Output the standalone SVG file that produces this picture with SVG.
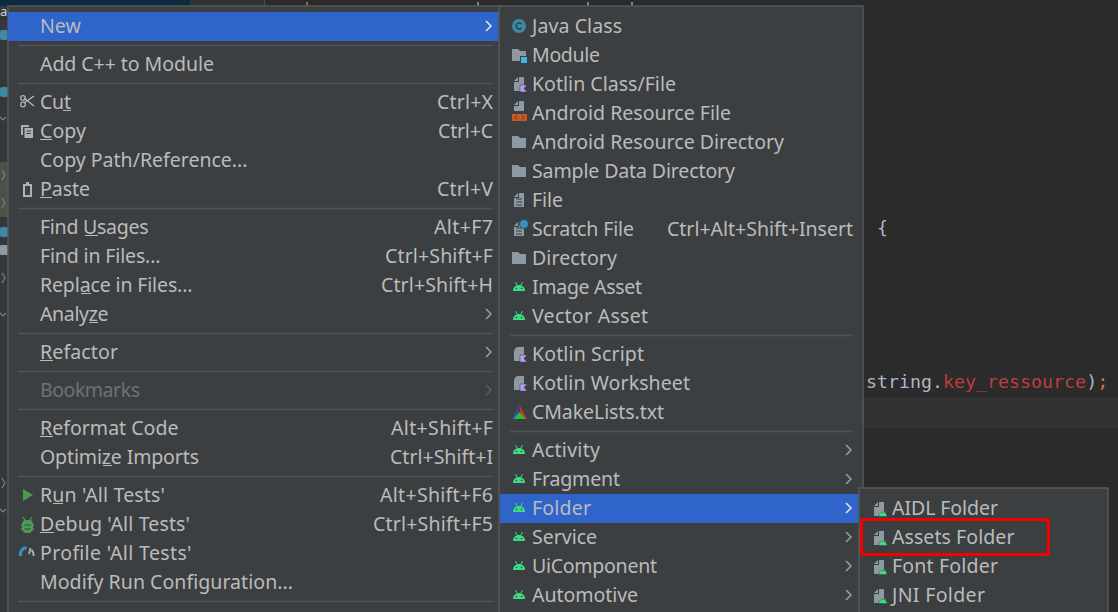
<svg xmlns="http://www.w3.org/2000/svg" xmlns:xlink="http://www.w3.org/1999/xlink" width="1118" height="612" viewBox="0 0 1118 612">
<style>
text{font-family:"Noto Sans","DejaVu Sans",sans-serif;font-size:19.55px;fill:#bbbbbb}
.s{text-anchor:end}
.d{fill:#6f7173}
.code{font-family:"DejaVu Sans Mono","Liberation Mono",monospace;font-size:18.3px}
.sep{stroke:#515253;stroke-width:1.5}
.ul{stroke:#bbbbbb;stroke-width:1.2}
.ch{fill:none;stroke:#9a9c9e;stroke-width:1.5}
.m{fill:#3c3f41;stroke:#55585a;stroke-width:1.5}
.g{fill:none;stroke:#7d8184;stroke-width:1.2}
</style>
<defs>
<g id="droid"><path d="M0 9c0-3.500 2.500-6 6-6s6 2.500 6 6z" fill="#3ddc84"/><path d="M2.500 0l1.800 3.500M9.500 0l-1.800 3.500" stroke="#3ddc84" stroke-width="1"/><circle cx="3.500" cy="6.500" r=".8" fill="#2b4a38"/><circle cx="8.500" cy="6.500" r=".8" fill="#2b4a38"/></g>
<path id="folder" d="M0 1h6l2 2h6v10H0z" fill="#8d9aa3"/>
<g id="file"><path d="M0 5h5V0h5v14H0z" fill="#8d9aa3"/><path d="M0 4l4-4v4z" fill="#8d9aa3"/></g>
<g id="kt"><use xlink:href="#file" x="1"/><path d="M7 8h7l-3 3.500 3 3.500H7z" fill="#b99bf8" stroke="#3c3f41" stroke-width=".5"/></g>
<g id="kts"><path d="M1 5c0-3 2-5 4-5h6v14H1z" fill="#8d9aa3"/><path d="M7 8h7l-3 3.500 3 3.500H7z" fill="#b99bf8" stroke="#3c3f41" stroke-width=".5"/></g>
<g id="afold"><use xlink:href="#file"/><path d="M4.500 14.500a4.300 4.300 0 0 1 8.600 0z" fill="#3ddc84" stroke="#3c3f41" stroke-width=".5"/><path d="M6 9.500l1 1.500M11.500 9.500l-1 1.500" stroke="#3ddc84" stroke-width=".8"/></g>
</defs>
<rect width="1118" height="612" fill="#2b2b2b"/>
<rect width="190" height="6" fill="#0e2a3e"/>
<rect x="190" width="74" height="6" fill="#313335"/>
<rect x="264" width="1" height="6" fill="#4a4c4e"/>
<path d="M307 2v4" stroke="#cc7832" stroke-width="1.500"/><path d="M478 2v4M588 2v4M632 2v4" stroke="#8da3b5" stroke-width="1.500"/>
<rect y="6" width="8" height="606" fill="#35383a"/>
<rect y="17" width="8" height="3" fill="#3a2f33"/>
<rect y="30" width="8" height="10" rx="2" fill="#3e8aa6"/><rect y="87" width="8" height="10" rx="2" fill="#3e8aa6"/>
<rect y="162" width="8" height="55" fill="#4b5347"/>
<rect y="227" width="8" height="10" rx="2" fill="#3e8aa6"/><rect y="245" width="8" height="10" rx="1" fill="#8d9aa3"/>
<path class="g" d="M0 117l3 3 3-3M2 170l3 5-3 5M2 198l3 5-3 5M2 273l3 5-3 5M0 313l3 3 3-3M2 478l3 5-3 5M0 509l3 3 3-3"/>
<text x="0" y="16" style="fill:#d0d4d6;font-size:13px">a</text>
<rect x="863" y="397" width="255" height="31" fill="#323232"/>
<g id="code">
<text class="code" x="866" y="388" style="fill:#a9b7c6">string.<tspan style="fill:#bc3f3c">key_ressource</tspan>)<tspan style="fill:#cc7832">;</tspan></text>
<text class="code" x="877" y="234" style="fill:#a9b7c6">{</text>
</g>
<g id="menu-main">
<rect class="m" x="8" y="6" width="492" height="610"/>
<rect x="8" y="12" width="492" height="29" fill="#2f65ca"/>
<text x="40" y="33">New</text>
<path class="ch" d="M486 21l5 5-5 5" style="stroke:#e6e6e6"/>
<text x="40" y="71" textLength="174">Add C++ to Module</text>
<text x="40" y="109" textLength="31">Cut</text><text class="s" x="493" y="109" textLength="56">Ctrl+X</text>
<text x="40" y="138" textLength="46">Copy</text><text class="s" x="493" y="138" textLength="55">Ctrl+C</text>
<text x="40" y="167" textLength="207.500">Copy Path/Reference...</text>
<text x="40" y="196" textLength="50">Paste</text><text class="s" x="493" y="196" textLength="56">Ctrl+V</text>
<text x="40" y="234" textLength="108.500">Find Usages</text><text class="s" x="493" y="234" textLength="59">Alt+F7</text>
<text x="40" y="263" textLength="120.500">Find in Files...</text><text class="s" x="493" y="263" textLength="108">Ctrl+Shift+F</text>
<text x="40" y="292" textLength="152.500">Replace in Files...</text><text class="s" x="493" y="292" textLength="112">Ctrl+Shift+H</text>
<text x="40" y="321" textLength="68.500">Analyze</text><path class="ch" d="M486 309l5 5-5 5"/>
<text x="40" y="359" textLength="78">Refactor</text><path class="ch" d="M486 347l5 5-5 5"/>
<text class="d" x="40" y="397" textLength="100">Bookmarks</text><path class="ch" d="M486 385l5 5-5 5" style="stroke:#5a5c5e"/>
<text x="40" y="435" textLength="138.500">Reformat Code</text><text class="s" x="493" y="435" textLength="102">Alt+Shift+F</text>
<text x="40" y="464" textLength="159">Optimize Imports</text><text class="s" x="493" y="464" textLength="103">Ctrl+Shift+I</text>
<text x="40" y="502" textLength="125">Run 'All Tests'</text><text class="s" x="493" y="502" textLength="113">Alt+Shift+F6</text>
<text x="40" y="531" textLength="150">Debug 'All Tests'</text><text class="s" x="493" y="531" textLength="120">Ctrl+Shift+F5</text>
<text x="40" y="560" textLength="151.500">Profile 'All Tests'</text>
<text x="40" y="589" textLength="253">Modify Run Configuration...</text>
<path class="sep" d="M18 45.500h475M18 83.500h475M18 208.500h475M18 333.500h475M18 371.500h475M18 409.500h475M18 476.500h475M18 601.500h475"/>
<path class="ul" d="M63 110.500h8M40 139.500h12M40 197.500h12M85 235.500h13M81 293.500h10M89 322.500h9M40 360.500h13M40 436.500h13M103 465.500h9M53 503.500h10M40 532.500h14"/>
<g id="ic-main" fill="#afb1b3">
<path d="M24 103l10-7M24 98l10 8" stroke="#afb1b3" stroke-width="1.500" fill="none"/>
<circle cx="23" cy="98" r="2.300" fill="none" stroke="#afb1b3" stroke-width="1.300"/><circle cx="23" cy="104.500" r="2.300" fill="none" stroke="#afb1b3" stroke-width="1.300"/>
<path d="M21 125h8v2h-6v8h-2z"/><path d="M24.500 128h8.500v10h-8.500zM26.500 130.500v1h4.500v-1zM26.500 133v1h4.500v-1z" fill-rule="evenodd"/>
<path d="M23 184h3v-2h3v2h3v13h-9zM25 186v9h5v-9z" fill-rule="evenodd"/>
<path d="M23 489l10 6-10 6z" fill="#499c54"/>
<path d="M23 517l2 3M32 517l-2 3M21 525h13M21 529h13" stroke="#499c54" stroke-width="1.300" fill="none"/><path d="M24 520h7l2 3v7l-3 3h-5l-3-3v-7z" fill="#499c54"/><path d="M24.500 525h6M24.500 529h6" stroke="#3c3f41"/>
<path d="M20.500 556a7 7 0 0 1 6-8.500" stroke="#3592c4" stroke-width="3" fill="none"/><path d="M29 554l1.500-6M33.500 556a7 7 0 0 0-2-6" stroke="#afb1b3" stroke-width="1.800" fill="none"/>
</g>
</g>
<g id="menu-new">
<rect class="m" x="499" y="6" width="364" height="610"/>
<rect x="500" y="494" width="363" height="29" fill="#2f65ca"/>
<text x="532" y="33" textLength="90">Java Class</text>
<text x="532" y="62" textLength="68">Module</text>
<text x="532" y="91" textLength="144">Kotlin Class/File</text>
<text x="532" y="120" textLength="199">Android Resource File</text>
<text x="532" y="149" textLength="252">Android Resource Directory</text>
<text x="532" y="178" textLength="203">Sample Data Directory</text>
<text x="532" y="207" textLength="31">File</text>
<text x="532" y="236" textLength="102">Scratch File</text><text class="s" x="853" y="236" textLength="186">Ctrl+Alt+Shift+Insert</text>
<text x="532" y="265" textLength="85">Directory</text>
<text x="532" y="294" textLength="110">Image Asset</text>
<text x="532" y="323" textLength="116">Vector Asset</text>
<text x="532" y="361" textLength="112">Kotlin Script</text>
<text x="532" y="390" textLength="158">Kotlin Worksheet</text>
<text x="532" y="419" textLength="132">CMakeLists.txt</text>
<text x="532" y="457" textLength="68">Activity</text>
<text x="532" y="486" textLength="88">Fragment</text>
<text x="532" y="515" textLength="59">Folder</text>
<text x="532" y="544" textLength="65">Service</text>
<text x="532" y="573" textLength="125">UiComponent</text>
<text x="532" y="602" textLength="106">Automotive</text>
<path class="sep" d="M510 335.500h343M510 431.500h343"/>
<path class="ch" d="M846 445l5 5-5 5M846 474l5 5-5 5M846 532l5 5-5 5M846 561l5 5-5 5M846 590l5 5-5 5"/>
<path class="ch" d="M846 503l5 5-5 5" style="stroke:#e6e6e6"/>
<circle cx="519" cy="26" r="7" fill="#3d88a4"/><path d="M521.500 24a3 3 0 1 0 0 4" fill="none" stroke="#24404e" stroke-width="1.300"/>
<use xlink:href="#folder" x="512" y="48"/><rect x="520.500" y="56.500" width="7" height="7" fill="#40b6e0" stroke="#3c3f41"/>
<use xlink:href="#kt" x="513" y="77"/>
<path d="M514 111v-5h5v-5h5v10z" fill="#8d9aa3"/><path d="M514 105l4-4v4z" fill="#8d9aa3"/><rect x="512" y="114" width="15" height="7" fill="#c75a23"/><path d="M517 115.500l-2 2 2 2M522 115.500l2 2-2 2" fill="none" stroke="#3c3f41"/>
<use xlink:href="#folder" x="512" y="135"/><use xlink:href="#folder" x="512" y="164"/>
<use xlink:href="#file" x="514" y="193"/><path d="M516 199h6M516 202h6M516 205h6" stroke="#3c3f41"/>
<use xlink:href="#file" x="514" y="222"/><path d="M516 228h6M516 231h6M516 234h6" stroke="#3c3f41"/><circle cx="524" cy="224" r="4.500" fill="#3592c4" stroke="#3c3f41" stroke-width=".8"/>
<use xlink:href="#folder" x="512" y="251"/>
<g id="droids"><use xlink:href="#droid" x="513" y="282"/><use xlink:href="#droid" x="513" y="311"/><use xlink:href="#droid" x="513" y="445"/><use xlink:href="#droid" x="513" y="474"/><use xlink:href="#droid" x="513" y="503"/><use xlink:href="#droid" x="513" y="532"/><use xlink:href="#droid" x="513" y="561"/><use xlink:href="#droid" x="513" y="590"/></g>
<use xlink:href="#kts" x="513" y="347"/><use xlink:href="#kts" x="513" y="376"/>
<path d="M519.500 405l-7.500 14h5z" fill="#3a4cb0"/><path d="M519.500 405l7.500 14h-6z" fill="#d03030"/><path d="M519.500 412l-6 7h12z" fill="#25c030"/>
</g>
<g id="menu-folder">
<rect class="m" x="859" y="488" width="249" height="130"/>
<text x="892" y="515" textLength="106">AIDL Folder</text>
<text x="892" y="544" textLength="122.500">Assets Folder</text>
<text x="892" y="573" textLength="106">Font Folder</text>
<text x="892" y="602" textLength="93">JNI Folder</text>
<use xlink:href="#afold" x="874" y="502"/><use xlink:href="#afold" x="874" y="531"/><use xlink:href="#afold" x="874" y="560"/><use xlink:href="#afold" x="874" y="589"/>
</g>
<rect id="highlight" x="861.500" y="519.500" width="187" height="35" fill="none" stroke="#f40000" stroke-width="3" rx="1.500"/>
</svg>
